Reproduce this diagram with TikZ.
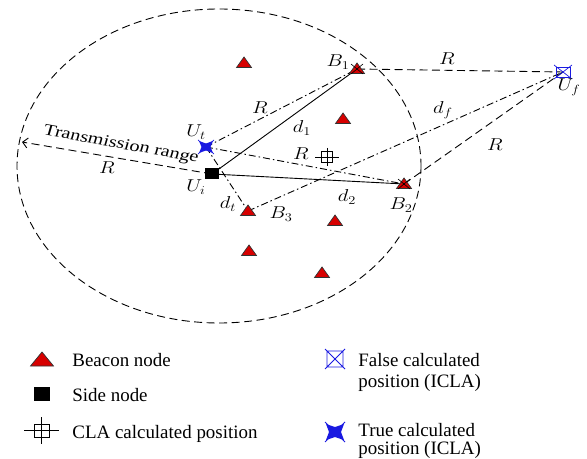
\documentclass[tikz,border=0pt]{standalone}
\usepackage{fontspec}
\setmainfont{Liberation Serif}
\usetikzlibrary{arrows.meta}
\definecolor{beaconred}{RGB}{215,0,0}
\definecolor{posblue}{RGB}{25,25,225}
\begin{document}
\begin{tikzpicture}[x=1bp,y=-1bp,line width=.9bp,
	dashline/.style={dash pattern=on 8bp off 4.5bp},
	dashdot/.style={dash pattern=on 7bp off 3bp on 1.5bp off 3bp},
	beacon/.style={fill=beaconred,draw=black!80,line width=.7bp},
	lbl/.style={inner sep=0pt,xscale=1.2,font=\fontsize{17}{19}\selectfont},
	legend/.style={anchor=base west,inner sep=0pt,font=\fontsize{19}{21}\selectfont}]
	\useasboundingbox (0,0) rectangle (587,459);
	\coordinate (Ui) at (212,174); % Side node
	\coordinate (Ut) at (206,147);
	\coordinate (Uf) at (563,72);
	\coordinate (B1) at (357,69);
	\coordinate (B2) at (404,184);
	\coordinate (B3) at (248,211);
	\coordinate (b4) at (244,63);
	\coordinate (b5) at (343,119);
	\coordinate (b6) at (335,221);
	\coordinate (b7) at (249,251);
	\coordinate (b8) at (322,273);
	\coordinate (CLA) at (327,157);
	\coordinate (Edge) at (22,142);
	% Transmission range
	\draw[dashline] (219,166) ellipse [x radius=202, y radius=157];
	\draw[dashline,-{Straight Barb[length=5bp,width=10bp]}] (Ui) -- (Edge);
	\node[lbl,font=\fontsize{16}{18}\selectfont,xscale=1.06,rotate=-13] (trange) at (121,145) {Transmission range};
	\node[lbl] (Rt) at (107,168) {$R$};
	% Connectors
	\draw (Ui) -- (B1);
	\draw (Ui) -- (B2);
	\draw[dashdot] (Ut) -- (B1);
	\draw[dashdot] (Ut) -- (B2);
	\draw[dashdot] (Ut) -- (B3);
	\draw[dashdot] (B3) -- (Uf);
	\draw[dashline] (B1) -- (Uf);
	\draw[dashline] (B2) -- (Uf);
	% Beacon nodes
	\foreach \p in {B1,B2,B3,b4,b5,b6,b7,b8}
		\filldraw[beacon] (\p) ++(-7.5,4.5) -- ++(15,0) -- ++(-7.5,-10.5) -- cycle;
	\draw[line width=.6bp] (B1) ++(-6,-5) -- ++(12,10) (B1) ++(-6,5) -- ++(12,-10);
	\draw[line width=.6bp] (B2) ++(-6,-5) -- ++(12,10) (B2) ++(-6,5) -- ++(12,-10);
	\fill (Ui) ++(-7,-5.5) rectangle ++(14,11);
	% CLA position
	\draw[line width=.8bp] (CLA) ++(-5.5,-5.5) rectangle ++(11,11);
	\draw[line width=.8bp] (CLA) ++(-12,0) -- ++(24,0) (CLA) ++(0,-9) -- ++(0,18);
	% ICLA positions
	\fill[posblue] (Ut) ++(-7,-6) -- ++(7,2.5) -- ++(7,-2.5) -- ++(-2.5,6) -- ++(2.5,6) -- ++(-7,-2.5) -- ++(-7,2.5) -- ++(2.5,-6) -- cycle;
	\draw[posblue,line width=.7bp] (Ut) ++(-8,-7) -- ++(16,14) (Ut) ++(-8,7) -- ++(16,-14);
	\draw[posblue,line width=.7bp] (Uf) ++(-7,-5) rectangle ++(14,10);
	\draw[posblue,line width=.7bp] (Uf) ++(-9,-7) -- ++(18,14) (Uf) ++(-9,7) -- ++(18,-14);
	% Labels
	\node[lbl] (lB1) at (338,62) {$B_1$};
	\node[lbl] (lB2) at (401,205) {$B_2$};
	\node[lbl] (lB3) at (281,214) {$B_3$};
	\node[lbl] (lUt) at (196,132) {$U_t$};
	\node[lbl] (lUi) at (196,187) {$U_i$};
	\node[lbl] (lUf) at (569,87) {$U_f$};
	\node[lbl] (ld1) at (302,128) {$d_1$};
	\node[lbl] (ld2) at (347,197) {$d_2$};
	\node[lbl] (ldt) at (228,204) {$d_t$};
	\node[lbl] (ldf) at (443,110) {$d_f$};
	\node[lbl] (R1) at (260,108) {$R$};
	\node[lbl] (R2) at (301,154) {$R$};
	\node[lbl] (R3) at (447,59) {$R$};
	\node[lbl] (R4) at (495,145) {$R$};
	% Legend
	\filldraw[beacon] (42,366) -- (53.5,366) -- (42,352) -- (30.5,366) -- cycle;
	\fill (34,387) rectangle (50,401);
	\draw[line width=.9bp] (34,424) rectangle (49,437) (24,430.5) -- (59,430.5) (41.5,417) -- (41.5,444);
	\draw[posblue,line width=.9bp] (327,351) rectangle (343,367) (325,349) -- (345,369) (325,369) -- (345,349);
	\fill[posblue] (326,424) -- (335,427) -- (344,424) -- (341,432) -- (344,440) -- (335,437) -- (326,440) -- (329,432) -- cycle;
	\draw[posblue,line width=.9bp] (325,422) -- (345,442) (325,442) -- (345,422);
	\node[legend] (tBeacon) at (72,366) {Beacon node};
	\node[legend] (tSide) at (72,401) {Side node};
	\node[legend] (tCLA) at (72,438) {CLA calculated position};
	\node[legend] (tFalse) at (358,366) {False calculated};
	\node[legend] (tFalse2) at (358,387) {position (ICLA)};
	\node[legend] (tTrue) at (358,436) {True calculated};
	\node[legend] (tTrue2) at (358,454) {position (ICLA)};
\end{tikzpicture}
\end{document}
